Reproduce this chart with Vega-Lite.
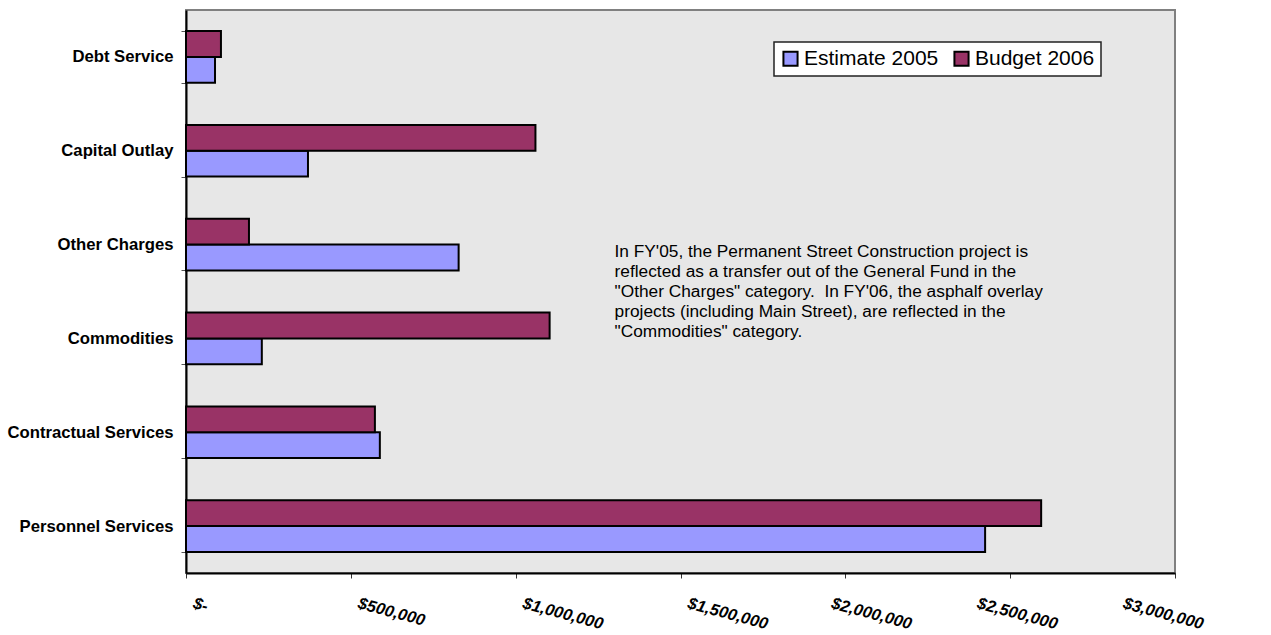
{
  "$schema": "https://vega.github.io/schema/vega-lite/v6.json",
  "autosize": {"type": "none"},
  "padding": {"left": 186, "top": 10, "right": 96, "bottom": 62},
  "width": 989,
  "height": 563,
  "background": "white",
  "config": {
    "view": {"fill": "#e7e7e7", "stroke": "#808080", "strokeWidth": 2},
    "font": "Liberation Sans"
  },
  "datasets": {
    "bars": [
      {"category": "Debt Service", "series": "Estimate 2005", "amount": 88000},
      {"category": "Debt Service", "series": "Budget 2006", "amount": 106000},
      {"category": "Capital Outlay", "series": "Estimate 2005", "amount": 370000},
      {"category": "Capital Outlay", "series": "Budget 2006", "amount": 1060000},
      {"category": "Other Charges", "series": "Estimate 2005", "amount": 827000},
      {"category": "Other Charges", "series": "Budget 2006", "amount": 191000},
      {"category": "Commodities", "series": "Estimate 2005", "amount": 230000},
      {"category": "Commodities", "series": "Budget 2006", "amount": 1103000},
      {"category": "Contractual Services", "series": "Estimate 2005", "amount": 588000},
      {"category": "Contractual Services", "series": "Budget 2006", "amount": 573000},
      {"category": "Personnel Services", "series": "Estimate 2005", "amount": 2424000},
      {"category": "Personnel Services", "series": "Budget 2006", "amount": 2594000}
    ],
    "note": [
      {"category": "Other Charges", "amount": 1300000, "text": ["In FY'05, the Permanent Street Construction project is", "reflected as a transfer out of the General Fund in the", "\"Other Charges\" category.\u00a0 In FY'06, the asphalf overlay", "projects (including Main Street), are reflected in the", "\"Commodities\" category."]}
    ]
  },
  "layer": [
    {
      "data": {"name": "bars"},
      "mark": {"type": "bar", "stroke": "black", "strokeWidth": 2, "opacity": 1},
      "encoding": {
        "y": {
          "field": "category",
          "type": "nominal",
          "sort": ["Debt Service", "Capital Outlay", "Other Charges", "Commodities", "Contractual Services", "Personnel Services"],
          "scale": {"paddingInner": 0.45, "paddingOuter": 0.225},
          "axis": {
            "title": null,
            "tickBand": "extent",
            "domainColor": "#000000",
            "domainWidth": 2,
            "tickColor": "#555555",
            "tickSize": 5,
            "labelPadding": 8,
            "labelFont": "Liberation Sans",
            "labelFontSize": 16.7,
            "labelFontWeight": "bold",
            "labelColor": "#000000",
            "labelLimit": 300
          }
        },
        "yOffset": {
          "field": "series",
          "type": "nominal",
          "sort": ["Budget 2006", "Estimate 2005"],
          "scale": {"paddingInner": 0, "paddingOuter": 0}
        },
        "x": {
          "field": "amount",
          "type": "quantitative",
          "scale": {"domain": [0, 3000000], "nice": false},
          "axis": {
            "title": null,
            "values": [0, 500000, 1000000, 1500000, 2000000, 2500000, 3000000],
            "grid": false,
            "domainColor": "#000000",
            "domainWidth": 2,
            "tickColor": "#333333",
            "tickSize": 5,
            "labelExpr": "datum.value == 0 ? '$-' : format(datum.value, '$,')",
            "labelAngle": 15,
            "labelAlign": "left",
            "labelBaseline": "top",
            "labelPadding": 17,
            "labelFont": "Liberation Sans",
            "labelFontSize": 16.5,
            "labelFontWeight": "bold",
            "labelFontStyle": "italic",
            "labelColor": "#000000",
            "labelOverlap": false,
            "labelFlush": false,
            "labelBound": false,
            "labelOffset": {"expr": "datum.value < 1600000 ? 9 : -12 - (datum.value - 2000000) / 500000 * 19"}
          }
        },
        "color": {
          "field": "series",
          "type": "nominal",
          "scale": {"domain": ["Estimate 2005", "Budget 2006"], "range": ["#9999ff", "#993366"]},
          "legend": {
            "title": null,
            "orient": "none",
            "legendX": 588,
            "legendY": 32,
            "direction": "horizontal",
            "fillColor": "white",
            "strokeColor": "#222222",
            "padding": 6,
            "symbolType": "square",
            "symbolSize": 200,
            "symbolStrokeColor": "black",
            "symbolStrokeWidth": 2,
            "symbolOpacity": 1,
            "labelFont": "Liberation Sans",
            "labelFontSize": 21,
            "labelColor": "#000000",
            "labelOffset": 3,
            "columnPadding": 11,
            "labelLimit": 300,
            "encode": {"legend": {"update": {"strokeWidth": {"value": 1.5}}}}
          }
        }
      }
    },
    {
      "data": {"name": "note"},
      "mark": {"type": "text", "align": "left", "baseline": "top", "fontSize": 17.3, "font": "Liberation Sans", "lineHeight": 20, "dy": -2, "color": "#000000"},
      "encoding": {
        "x": {"field": "amount", "type": "quantitative"},
        "y": {
          "field": "category",
          "type": "nominal",
          "sort": ["Debt Service", "Capital Outlay", "Other Charges", "Commodities", "Contractual Services", "Personnel Services"]
        },
        "text": {"field": "text"}
      }
    }
  ]
}
